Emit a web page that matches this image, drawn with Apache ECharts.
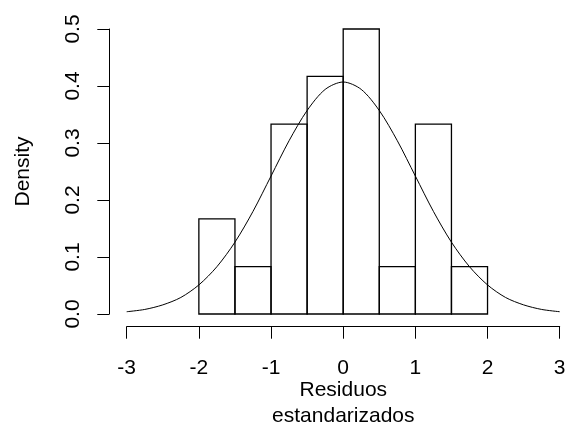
<!DOCTYPE html>
<html>
<head>
<meta charset="utf-8">
<script src="https://cdn.jsdelivr.net/npm/echarts@6/dist/echarts.min.js"></script>
<style>
  html, body { margin: 0; padding: 0; background: #fff; }
  #chart { width: 565px; height: 425px; }
</style>
</head>
<body>
<div id="chart"></div>
<script>
// histograma: bordes izquierdos, ancho de clase y densidad
var binStarts = [-2, -1.5, -1, -0.5, 0, 0.5, 1, 1.5]
var binWidth = 0.5
var densities = [0.167, 0.083, 0.333, 0.417, 0.5, 0.083, 0.333, 0.083]

// curva normal
var curveX = [-3, -2.75, -2.5, -2.25, -2, -1.75, -1.5, -1.25, -1, -0.75, -0.5, -0.25, 0,
  0.25, 0.5, 0.75, 1, 1.25, 1.5, 1.75, 2, 2.25, 2.5, 2.75, 3]
var curveY = [0.004, 0.008, 0.016, 0.029, 0.051, 0.083, 0.126, 0.180, 0.242, 0.304, 0.357, 0.394, 0.407,
  0.394, 0.357, 0.304, 0.242, 0.180, 0.126, 0.083, 0.051, 0.029, 0.016, 0.008, 0.004]

var xTicks = [-3, -2, -1, 0, 1, 2, 3]
var yTicks = [0, 0.1, 0.2, 0.3, 0.4, 0.5]
var xTitle = ['Residuos', 'estandarizados']

var font = 'Liberation Sans, Arial, sans-serif'

var barData = binStarts.map(function (x0, i) {
  return [x0, x0 + binWidth, densities[i]]
})
var lineData = curveX.map(function (x, i) {
  return [x, curveY[i]]
})

var chart = echarts.init(document.getElementById('chart'))
chart.setOption({
  animation: false,
  backgroundColor: '#fff',
  grid: { left: 126.7, right: 5.3, top: 29, bottom: 111, outerBoundsMode: 'none', containLabel: false },
  // titulo del eje x en dos lineas, centrado bajo el eje
  graphic: xTitle.map(function (t, i) {
    return {
      type: 'text',
      x: 343.3,
      y: 390 + i * 26.7,
      style: {
        text: t, fill: '#000', fontSize: 21, fontFamily: font,
        textAlign: 'center', textVerticalAlign: 'middle'
      }
    }
  }),
  xAxis: {
    type: 'value',
    min: xTicks[0],
    max: xTicks[xTicks.length - 1],
    interval: 1,
    offset: 12.7,
    axisLine: { show: true, onZero: false, lineStyle: { color: '#000', width: 1 } },
    axisTick: { show: true, length: 12, lineStyle: { color: '#000', width: 1 } },
    axisLabel: { color: '#000', fontSize: 21, fontFamily: font, margin: 31 },
    splitLine: { show: false }
  },
  yAxis: {
    type: 'value',
    min: yTicks[0],
    max: yTicks[yTicks.length - 1],
    interval: 0.1,
    offset: 17.4,
    name: 'Density',
    nameLocation: 'middle',
    nameGap: 76,
    nameTextStyle: { color: '#000', fontSize: 21, fontFamily: font },
    axisLine: { show: true, onZero: false, lineStyle: { color: '#000', width: 1 } },
    axisTick: { show: true, length: 12, lineStyle: { color: '#000', width: 1 } },
    axisLabel: {
      color: '#000', fontSize: 21, fontFamily: font, margin: 26, rotate: 90,
      formatter: function (v) { return v.toFixed(1) }
    },
    splitLine: { show: false }
  },
  series: [
    {
      type: 'custom',
      data: barData,
      renderItem: function (params, api) {
        var p0 = api.coord([api.value(0), 0])
        var p1 = api.coord([api.value(1), api.value(2)])
        return {
          type: 'rect',
          shape: { x: p0[0], y: p1[1], width: p1[0] - p0[0], height: p0[1] - p1[1] },
          style: { fill: 'none', stroke: '#000', lineWidth: 1.3 }
        }
      }
    },
    {
      type: 'line',
      data: lineData,
      smooth: 0.3,
      symbol: 'none',
      lineStyle: { color: '#000', width: 1 }
    }
  ]
})
</script>
</body>
</html>
